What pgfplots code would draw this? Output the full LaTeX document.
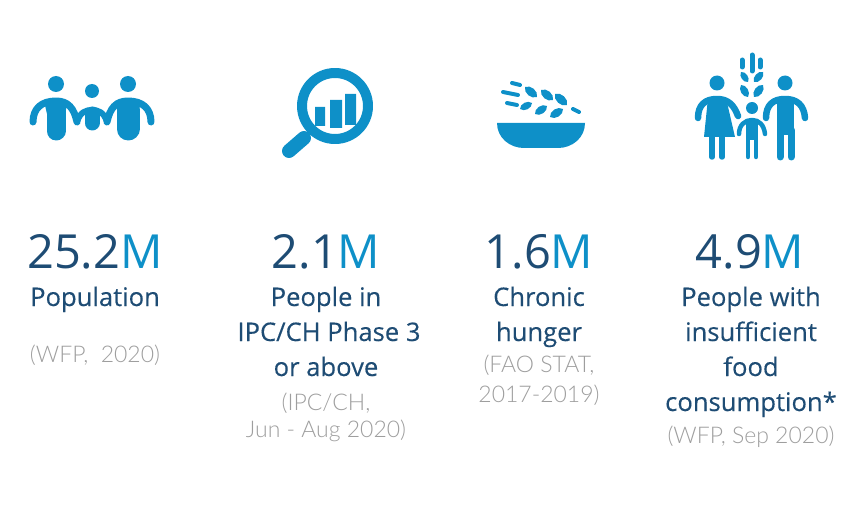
\documentclass[border=0pt]{standalone}
\usepackage{fontspec}
\setmainfont[FakeBold=0.25]{Open Sans}
\newfontfamily\numf{Open Sans}
\newfontfamily\lightf{Lato Light}
\usepackage{pgfplots}
\pgfplotsset{compat=1.18}
\definecolor{navy}{RGB}{30,76,116}
\definecolor{teal1}{RGB}{14,144,200}
\definecolor{gr}{RGB}{158,158,158}
\newcommand\lab[3]{\node[anchor=base,inner sep=0pt,text=navy,font=\fontsize{25.6}{25.6}\selectfont] at (axis cs:#1,#2) {#3};}
\newcommand\src[3]{\node[anchor=base,inner sep=0pt,text=gr,font=\fontsize{23}{23}\selectfont\lightf] at (axis cs:#1,#2) {#3};}
\newcommand\leaf[4]{\fill (#1,#2) to[bend left=65] (#3,#4) to[bend left=65] (#1,#2) -- cycle;}
\begin{document}
\begin{tikzpicture}
\begin{axis}[scale only axis,width=853pt,height=505pt,xmin=0,xmax=853,ymin=0,ymax=505,y dir=reverse,
 axis lines=none,clip=false,
 every node near coord/.append style={anchor=base,inner sep=0pt,text=navy,font=\fontsize{47}{47}\selectfont\numf},
 nodes near coords align={anchor=base}]
\path (0,0) rectangle (853,505);
% the four headline figures
\addplot[draw=none,mark=none,point meta=explicit symbolic,
 nodes near coords={\pgfplotspointmeta\textcolor{teal1}{M}}]
 coordinates {(95,268)[25.2] (326,268)[2.1] (539,268)[1.6] (750,268)[4.9]};
% labels
\lab{95}{306}{Population}
\lab{326}{306}{People in}
\lab{329}{341}{IPC/CH Phase 3}
\lab{326}{376}{or above}
\lab{539}{306}{Chronic}
\lab{539}{341}{hunger}
\lab{751}{306}{People with}
\lab{751}{341}{insufficient}
\lab{751}{376}{food}
\lab{751}{411}{consumption*}
\src{95}{362}{(WFP,\ \ 2020)}
\src{326}{410}{(IPC/CH,}
\src{326}{437}{Jun - Aug 2020)}
\src{539}{372}{(FAO STAT,}
\src{539}{402}{2017-2019)}
\src{751}{443}{(WFP, Sep 2020)}
% people icon
\fill[teal1] (56,84) circle[radius=8] (92,91) circle[radius=7] (128,84) circle[radius=8];
\begin{scope}[teal1,line cap=round,line join=round]
\draw[line width=7] (33,122) .. controls (33,108) and (42,101) .. (56,101) .. controls (68,101) and (74,108) .. (77,122);
\draw[line width=7] (151,122) .. controls (151,108) and (142,101) .. (128,101) .. controls (116,101) and (110,108) .. (107,122);
\fill (44,101) -- (68,101) -- (65,114) -- (47,114) -- cycle;
\fill (115,101) -- (141,101) -- (138,114) -- (118,114) -- cycle;
\draw[line width=19] (56,108) -- (56,131);
\draw[line width=23] (128,110) -- (128,129);
\draw[line width=6] (77,122) .. controls (80,112) and (86,110) .. (92,110) .. controls (98,110) and (104,112) .. (107,122);
\draw[line width=15] (92,114) -- (92,123);
% magnifier
\draw[line width=10] (335,106) circle[radius=33];
\draw[line width=14] (289,151) -- (304,138);
\fill (315,107) rectangle (325,126) (330,100) rectangle (342,128) (345,94) rectangle (356,125);
% bowl
\fill (497,123) -- (585,123) .. controls (585,138) and (572,148) .. (558,148) -- (524,148) .. controls (510,148) and (497,138) .. (497,123) -- cycle;
\draw[line width=4] (512,83) -- (520,85) (503,92) -- (518,95) (507,103) -- (517,105) (573,109) -- (579,112);
\leaf{525}{87}{537}{97}
\leaf{541}{90}{553}{100}
\leaf{555}{94}{567}{105}
\leaf{520}{109}{532}{103}
\leaf{535}{114}{547}{106}
\leaf{550}{117}{563}{109}
% family icon: wheat
\draw[line width=5] (752,55) -- (752,71) (742,60) -- (742,67) (760,60) -- (760,67);
\leaf{741}{72}{748}{82}
\leaf{754}{82}{763}{72}
\leaf{741}{85}{748}{97}
\leaf{754}{97}{763}{85}
% family icon: woman
\fill (717,83) circle[radius=7.5];
\draw[line width=6.5] (698,118) .. controls (698,105) and (705,99) .. (717,99) .. controls (728,99) and (734,105) .. (738,116);
\fill (708,98) -- (726,98) -- (735,137) -- (704,137) -- cycle;
\draw[line width=5.5] (712,135) -- (712,157) (722,135) -- (722,157);
% family icon: man
\fill (785,83) circle[radius=7.5];
\draw[line width=6.5] (766,118) .. controls (766,105) and (773,99) .. (785,99) .. controls (797,99) and (804,105) .. (805,118);
\fill (777,98) rectangle (794,135);
\draw[line width=7] (780,130) -- (780,157) (791,130) -- (791,157);
% family icon: child
\fill (752,108) circle[radius=6];
\draw[line width=4.5] (739,134) .. controls (739,125) and (745,120) .. (752,120) .. controls (759,120) and (764,125) .. (765,134);
\fill (746,120) rectangle (758,140);
\draw[line width=4.5] (748,138) -- (748,157) (756,138) -- (756,157);
\end{scope}
\end{axis}
\end{tikzpicture}
\end{document}
